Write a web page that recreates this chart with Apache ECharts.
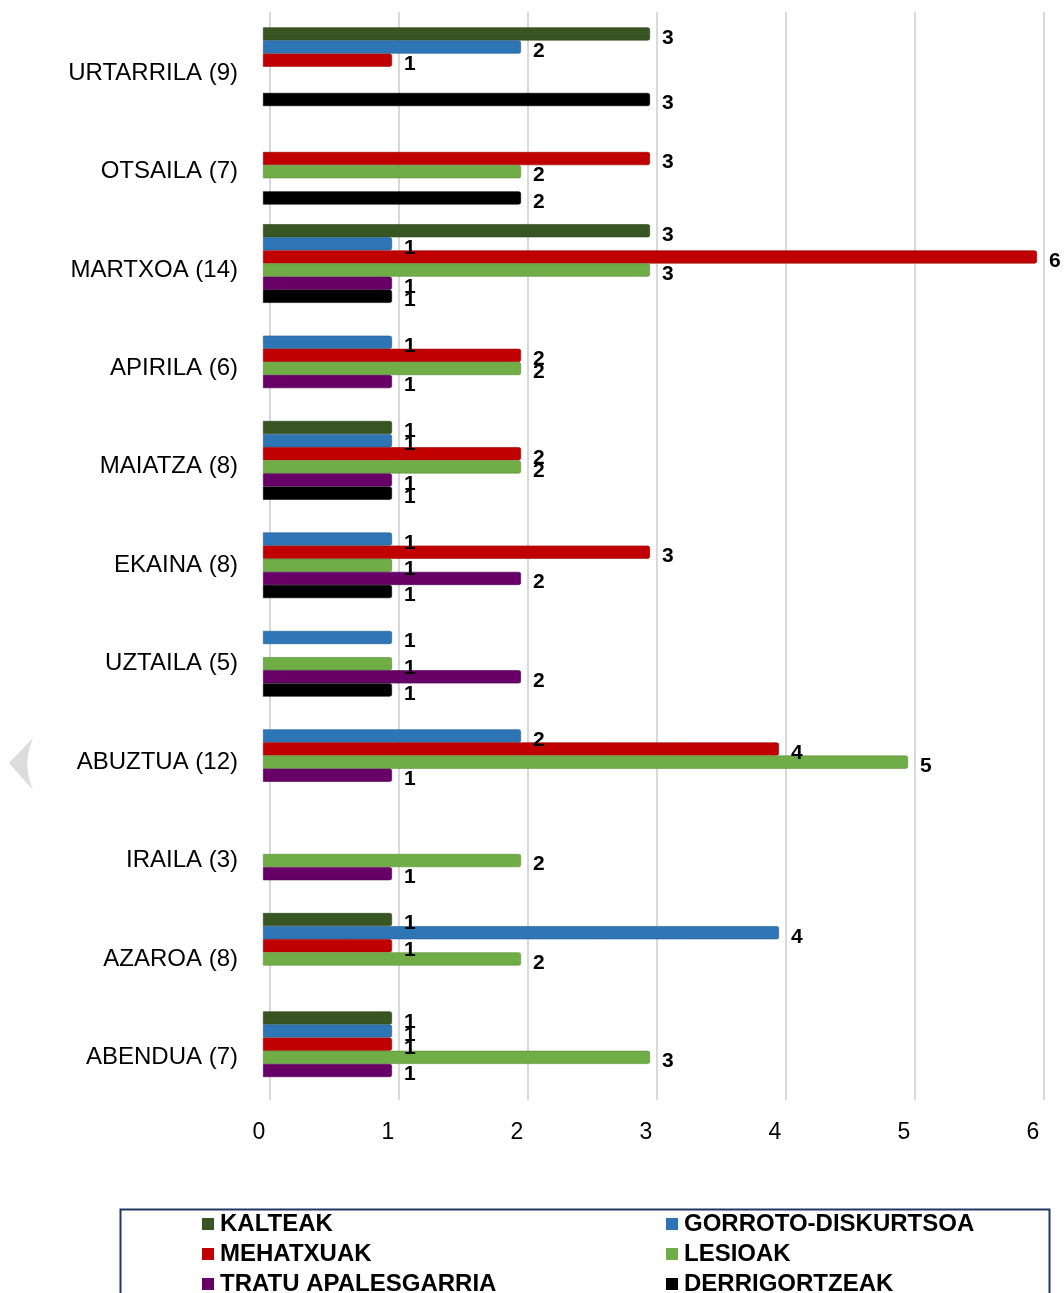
<!DOCTYPE html>
<html>
<head>
<meta charset="utf-8">
<script src="https://cdn.jsdelivr.net/npm/echarts@6/dist/echarts.min.js"></script>
<style>
  html, body { margin: 0; padding: 0; background: #fff; }
  #chart { width: 1064px; height: 1293px; }
</style>
</head>
<body>
<div id="chart"></div>
<script>
const categories = ['URTARRILA (9)', 'OTSAILA (7)', 'MARTXOA (14)', 'APIRILA (6)', 'MAIATZA (8)', 'EKAINA (8)', 'UZTAILA (5)', 'ABUZTUA (12)', 'IRAILA (3)', 'AZAROA (8)', 'ABENDUA (7)'];
const xTicks = [0, 1, 2, 3, 4, 5, 6];

const kalteak        = [3, null, 3, null, 1, null, null, null, null, 1, 1];
const gorroto        = [2, null, 1, 1, 1, 1, 1, 2, null, 4, 1];
const mehatxuak      = [1, 3, 6, 2, 2, 3, null, 4, null, 1, 1];
const lesioak        = [null, 2, 3, 2, 2, 1, 1, 5, 2, 2, 3];
const tratu          = [null, null, 1, 1, 1, 2, 2, 1, 1, null, 1];
const derrigortzeak  = [3, 2, 1, null, 1, 1, 1, null, null, null, null];

const seriesNames = ['KALTEAK', 'GORROTO-DISKURTSOA', 'MEHATXUAK', 'LESIOAK', 'TRATU APALESGARRIA', 'DERRIGORTZEAK'];
const seriesData = [kalteak, gorroto, mehatxuak, lesioak, tratu, derrigortzeak];
const colors = ['#375623', '#2e75b6', '#c00000', '#70ad47', '#660066', '#000000'];
const borderColors = ['#2a421a', '#245d91', '#960000', '#5a8c38', '#4d004d', '#000000'];

const FONT = "'Liberation Sans', Arial, sans-serif";

const chart = echarts.init(document.getElementById('chart'), null, { renderer: 'canvas' });

const series = seriesNames.map((name, i) => ({
  name: name,
  type: 'bar',
  xAxisIndex: 0,
  yAxisIndex: 0,
  data: seriesData[i],
  barGap: '0%',
  barCategoryGap: '20%',
  itemStyle: { color: colors[i], borderColor: borderColors[i], borderWidth: 0.6, borderRadius: [0, 2, 2, 0] },
  label: {
    show: true,
    position: 'right',
    distance: 12,
    offset: [0, 4],
    color: '#000',
    fontWeight: 'bold',
    fontSize: 21,
    fontFamily: FONT
  },
  z: 3
}));

// legend layout: two columns, three rows
const legendCols = [202, 666];
const legendRowTop = [1212, 1242, 1272];
const legendOrder = [
  ['KALTEAK', 0, 0], ['GORROTO-DISKURTSOA', 1, 0],
  ['MEHATXUAK', 0, 1], ['LESIOAK', 1, 1],
  ['TRATU APALESGARRIA', 0, 2], ['DERRIGORTZEAK', 1, 2]
];
const legends = legendOrder.map(([name, c, r]) => ({
  data: [name],
  orient: 'horizontal',
  left: legendCols[c],
  top: legendRowTop[r],
  itemWidth: 12, itemHeight: 12, icon: 'rect', selectedMode: false,
  padding: 0,
  itemStyle: { borderWidth: 0 },
  textStyle: { color: '#000', fontSize: 24, fontWeight: 'bold', fontFamily: FONT, padding: [0, 0, 0, 1] }
}));

const option = {
  backgroundColor: '#ffffff',
  animation: false,
  grid: [
    { left: 263, right: 27, top: 17.5, bottom: 193, containLabel: false },
    { left: 270, right: 20, top: 12, bottom: 193, containLabel: false }
  ],
  xAxis: [
    {
      type: 'value', gridIndex: 0, min: 0, max: 6, interval: 1,
      axisLine: { show: false }, axisTick: { show: false },
      splitLine: { show: false },
      axisLabel: { color: '#000', fontSize: 23, fontFamily: FONT, margin: 21,
        formatter: v => xTicks.includes(v) ? '{t|' + v + '}' : '',
        rich: { t: { fontSize: 23, fontFamily: FONT, color: '#000', padding: [0, 8, 0, 0] } } }
    },
    {
      type: 'value', gridIndex: 1, min: 0, max: 6, interval: 1,
      axisLine: { show: false }, axisTick: { show: false }, axisLabel: { show: false },
      splitLine: { show: true, lineStyle: { color: '#d9d9d9', width: 2 } }
    }
  ],
  yAxis: [
    {
      type: 'category', gridIndex: 0, data: categories, inverse: true,
      axisLine: { show: false }, axisTick: { show: false }, splitLine: { show: false },
      axisLabel: { color: '#000', fontSize: 24, fontFamily: FONT, margin: 25,
        formatter: v => '{c|' + v + '}',
        rich: { c: { fontSize: 24, fontFamily: FONT, color: '#000', padding: [13, 0, 0, 0] } } }
    },
    {
      type: 'category', gridIndex: 1, data: categories, inverse: true, show: false
    }
  ],
  legend: legends,
  graphic: [
    {
      type: 'rect', left: 118, top: 1207, z: 0,
      shape: { width: 929, height: 120 },
      style: { fill: 'none', stroke: '#1f3864', lineWidth: 2 }
    },
    {
      type: 'polygon', z: 0,
      shape: { points: [[33, 738], [9, 763], [33, 790], [29, 779], [27, 764], [29, 749]] },
      style: { fill: '#dcdcdc' }
    }
  ],
  series: series
};

chart.setOption(option);
</script>
</body>
</html>
